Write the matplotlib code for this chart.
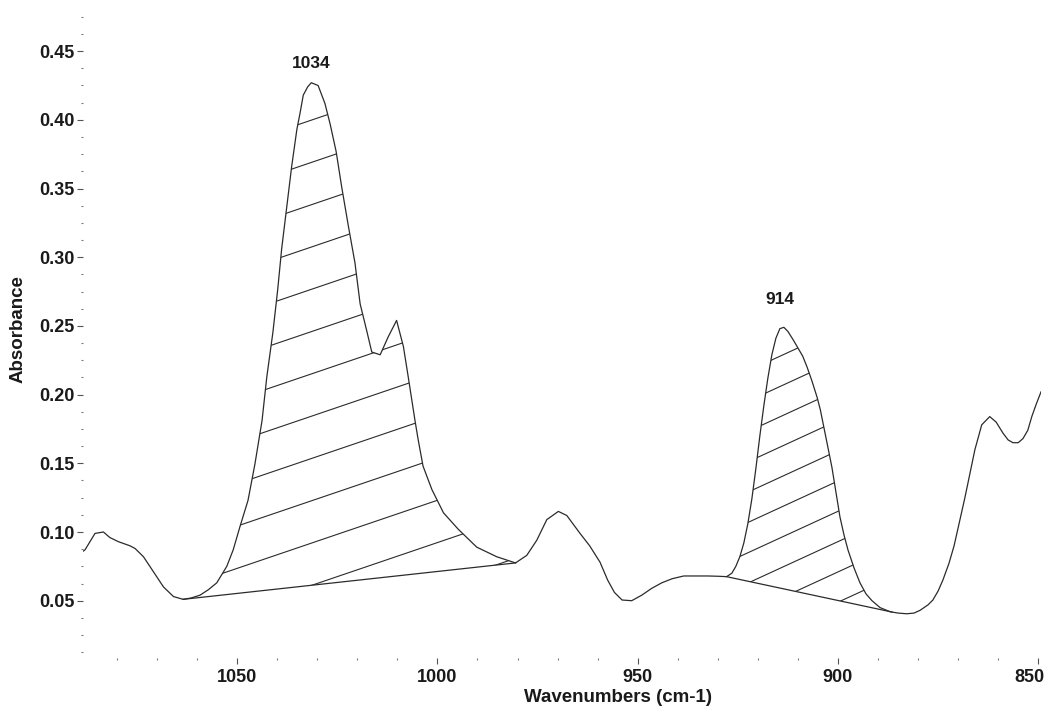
import numpy as np
import matplotlib
matplotlib.use('Agg')
import matplotlib.pyplot as plt
import matplotlib.transforms as mtransforms
from matplotlib.patches import Polygon
from matplotlib.lines import Line2D
from matplotlib.ticker import MultipleLocator, FixedLocator, FormatStrFormatter

# ---------------- data ----------------
wavenumber = [1088.5, 1088.0, 1085.5, 1083.4, 1081.8, 1079.7, 1076.8, 1075.5, 1073.4, 1070.9,
              1068.4, 1065.9, 1063.5, 1061.5, 1059.3, 1057.2, 1055.1, 1052.6, 1051.0, 1049.3,
              1047.3, 1045.6, 1043.8, 1042.6, 1041.1, 1039.9, 1038.9, 1037.6, 1036.4, 1035.1,
              1034.3, 1033.5, 1032.4, 1031.5, 1029.8, 1028.1, 1026.8, 1025.3, 1023.9, 1022.2,
              1020.6, 1019.3, 1017.7, 1016.4, 1014.3, 1012.3, 1010.2, 1008.5, 1007.3, 1005.6,
              1004.8, 1003.6, 1001.4, 998.5, 994.8, 990.2, 985.2, 980.5, 977.7, 975.2,
              972.7, 969.8, 967.7, 964.4, 962.0, 959.4, 957.5, 955.8, 953.9, 951.5,
              949.0, 946.5, 944.0, 941.4, 938.5, 935.5, 932.5, 930.0, 927.8, 926.5,
              925.5, 924.5, 923.5, 922.5, 921.5, 920.5, 919.5, 918.5, 917.5, 916.5,
              915.5, 914.5, 913.5, 912.5, 911.2, 910.0, 908.8, 907.7, 906.5, 905.2,
              904.4, 903.7, 902.6, 901.5, 900.5, 899.5, 898.5, 897.5, 896.0, 894.5,
              893.0, 891.5, 889.5, 887.0, 885.0, 882.8, 881.0, 879.5, 877.5, 876.3,
              875.0, 873.8, 872.3, 871.0, 870.0, 868.3, 867.0, 865.8, 864.1, 862.1,
              860.5, 858.8, 857.5, 856.3, 855.0, 853.8, 852.6, 851.6, 850.5, 849.3]
absorbance = [0.086, 0.087, 0.099, 0.100, 0.096, 0.093, 0.090, 0.088, 0.082, 0.071,
              0.060, 0.053, 0.051, 0.052, 0.054, 0.058, 0.063, 0.075, 0.087, 0.104,
              0.123, 0.149, 0.181, 0.213, 0.245, 0.276, 0.306, 0.337, 0.366, 0.393,
              0.405, 0.418, 0.424, 0.427, 0.425, 0.412, 0.397, 0.377, 0.351, 0.322,
              0.296, 0.266, 0.247, 0.231, 0.229, 0.242, 0.254, 0.235, 0.213, 0.181,
              0.167, 0.148, 0.131, 0.114, 0.102, 0.089, 0.082, 0.0775, 0.083, 0.094,
              0.109, 0.115, 0.112, 0.099, 0.090, 0.078, 0.065, 0.056, 0.0505, 0.050,
              0.054, 0.059, 0.063, 0.066, 0.068, 0.068, 0.068, 0.0678, 0.0675, 0.070,
              0.075, 0.082, 0.092, 0.106, 0.124, 0.146, 0.170, 0.192, 0.212, 0.229,
              0.241, 0.248, 0.249, 0.246, 0.240, 0.234, 0.228, 0.220, 0.210, 0.198,
              0.189, 0.179, 0.163, 0.147, 0.129, 0.111, 0.098, 0.087, 0.074, 0.063,
              0.055, 0.050, 0.045, 0.042, 0.041, 0.0405, 0.041, 0.043, 0.047, 0.0505,
              0.057, 0.065, 0.077, 0.090, 0.103, 0.125, 0.143, 0.160, 0.178, 0.184,
              0.180, 0.172, 0.167, 0.165, 0.165, 0.168, 0.174, 0.184, 0.193, 0.202]

band_starts = [1063.5, 927.8]
band_ends = [980.5, 886.5]
peak_labels = ['1034', '914']
peak_label_wn = [1031.4, 914.5]
peak_label_abs = [0.4413, 0.2689]

x_major = [850, 900, 950, 1000, 1050]

# ---------------- figure ----------------
W, H = 1050, 707
plt.rcParams['font.family'] = ['Liberation Sans', 'DejaVu Sans']
fig = plt.figure(figsize=(10.5, 7.07), dpi=100)
ax_l, ax_r, ax_t, ax_b = 83, 1041, 15, 658
ax = fig.add_axes([ax_l / W, 1 - ax_b / H, (ax_r - ax_l) / W, (ax_b - ax_t) / H])

line_color = '#2b2b2b'
wn = np.array(wavenumber)
ab = np.array(absorbance)
ax.plot(wn, ab, color=line_color, lw=0.9)

ax.set_xlim(1088.5, 849.3)
ax.set_ylim(0.0083, 0.4763)

def interp_abs(w):
    return float(np.interp(w, wn[::-1], ab[::-1]))

# hatch styles (pixel space): slope, spacing, reference x, reference y, x range
hatch_styles = [(-0.34, 42.3, 300, 124, 150, 560), (-0.46, 30.3, 700, 393, 700, 960)]

for (b0, b1), (slope, spacing, xref, yref, xa, xb) in zip(zip(band_starts, band_ends), hatch_styles):
    a0, a1 = interp_abs(b0), interp_abs(b1)
    mask = (wn < b0) & (wn > b1)
    verts = [(b0, a0)] + list(zip(wn[mask], ab[mask])) + [(b1, a1)]
    patch = Polygon(verts, closed=True, facecolor='none', edgecolor='none',
                    transform=ax.transData)
    ax.add_patch(patch)
    ax.plot([b0, b1], [a0, a1], color=line_color, lw=0.9)
    for k in range(-20, 30):
        c = yref + spacing * k
        xs = np.array([xa, xb], dtype=float)
        ys = c + slope * (xs - xref)
        ln = Line2D(xs / W, 1 - ys / H, color=line_color, lw=0.8,
                    transform=fig.transFigure)
        ln.set_clip_path(patch)
        ax.add_artist(ln)

for lab, w, a in zip(peak_labels, peak_label_wn, peak_label_abs):
    ax.text(w, a, lab, ha='center', va='center', fontsize=12.5,
            fontweight='bold', color='#1a1a1a')

for s in ax.spines.values():
    s.set_visible(False)

ax.xaxis.set_major_locator(FixedLocator(x_major))
ax.xaxis.set_minor_locator(MultipleLocator(10))
ax.yaxis.set_major_locator(MultipleLocator(0.05))
ax.yaxis.set_minor_locator(MultipleLocator(0.0125))
ax.yaxis.set_major_formatter(FormatStrFormatter('%.2f'))
ax.xaxis.set_major_formatter(FormatStrFormatter('%d'))

ax.tick_params(axis='both', which='major', direction='out', length=4, width=0.8,
               color='#555555', labelsize=13, labelcolor='#1a1a1a')
ax.tick_params(axis='both', which='minor', direction='out', length=1.5, width=0.8,
               color='#777777')
ax.tick_params(axis='y', which='major', pad=2)
ax.tick_params(axis='x', which='major', pad=4)

fig.canvas.draw()
for t in ax.get_xticklabels() + ax.get_yticklabels():
    t.set_fontweight('bold')
# shift the right-most x label inward so it stays inside the image
shift = mtransforms.ScaledTranslation(-9 / 100, 0, fig.dpi_scale_trans)
for t in ax.get_xticklabels():
    if t.get_text() == '850':
        t.set_transform(t.get_transform() + shift)

fig.text(617.5 / W, 1 - 697 / H, 'Wavenumbers (cm-1)', ha='center', va='center',
         fontsize=13.5, fontweight='bold', color='#1a1a1a')
fig.text(18 / W, 1 - 329 / H, 'Absorbance', ha='center', va='center', rotation=90,
         fontsize=13.5, fontweight='bold', color='#1a1a1a')

fig.savefig('out.png', dpi=100, facecolor='white')
